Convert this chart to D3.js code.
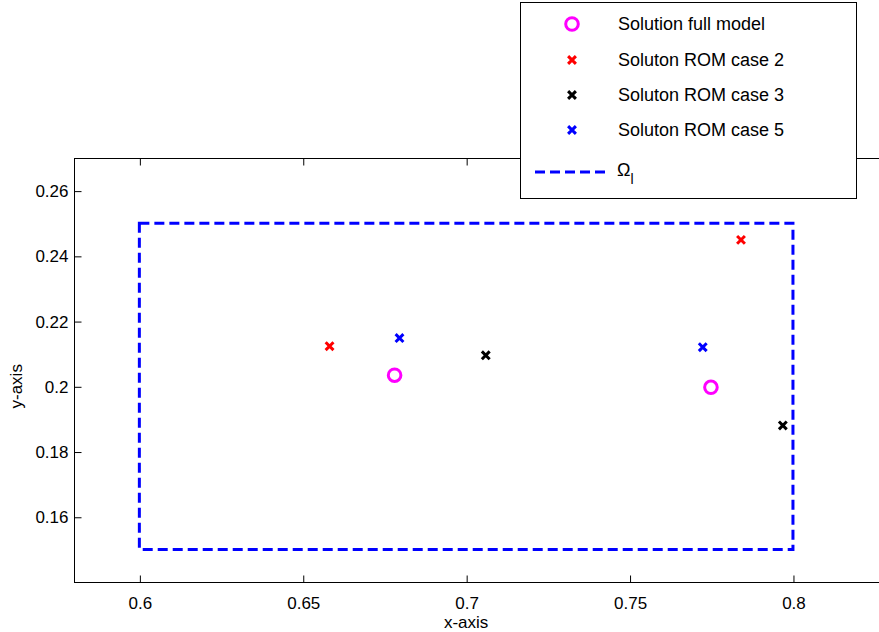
<!DOCTYPE html>
<html><head><meta charset="utf-8">
<script src="https://cdn.jsdelivr.net/npm/d3@7"></script>
<style>body{margin:0;background:#fff}svg{display:block}text{font-family:"Liberation Sans",Arial,sans-serif}</style>
</head><body><svg id="c" width="879" height="632"></svg>
<script>
const xTicks=[0.6,0.65,0.7,0.75,0.8];
const yTicks=[0.16,0.18,0.2,0.22,0.24,0.26];
const fullModel=[[0.6781,0.2034],[0.7749,0.1997]];
const romCase2=[[0.6582,0.2123],[0.7841,0.2449]];
const romCase3=[[0.7060,0.2095],[0.7969,0.1880]];
const romCase5=[[0.6796,0.2148],[0.7724,0.2120]];
const omegaX=[0.6,0.8], omegaY=[0.15,0.25];
const legendLabels=["Solution full model","Soluton ROM case 2","Soluton ROM case 3","Soluton ROM case 5"];

const svg=d3.select("#c");
const L=74,R=891,T=158,B=582;
const x=d3.scaleLinear().domain([0.58,0.83]).range([L,R]);
const y=d3.scaleLinear().domain([0.14,0.27]).range([B,T]);

const g=svg.append("g");
g.append("rect").attr("x",L+0.5).attr("y",T+0.5).attr("width",R-L).attr("height",B-T).attr("fill","none").attr("stroke","#000").attr("stroke-width",1);
const fmt=d=>String(+d.toFixed(3));
const xa=g.append("g").attr("transform",`translate(0.5,${B+0.5})`).call(d3.axisBottom(x).tickValues(xTicks).tickSize(-7).tickPadding(14).tickFormat(fmt));
const xt=g.append("g").attr("transform",`translate(0.5,${T+0.5})`).call(d3.axisTop(x).tickValues(xTicks).tickSize(-7).tickFormat(""));
const ya=g.append("g").attr("transform",`translate(${L+0.5},0.5)`).call(d3.axisLeft(y).tickValues(yTicks).tickSize(-7).tickPadding(6).tickFormat(fmt));
[xa,xt,ya].forEach(a=>{a.select(".domain").remove();a.selectAll("line").attr("stroke","#000");a.selectAll("text").attr("font-size",17).attr("fill","#000").style("font-family","Liberation Sans, Arial, sans-serif");});

g.append("text").attr("x",x(0.7)).attr("y",628).attr("text-anchor","middle").attr("font-size",17).text("x-axis");
g.append("text").attr("transform",`translate(22,${y(0.2)}) rotate(-90)`).attr("text-anchor","middle").attr("font-size",17).text("y-axis");

g.append("rect").attr("x",x(omegaX[0])).attr("y",y(omegaY[1])).attr("width",x(omegaX[1])-x(omegaX[0])).attr("height",y(omegaY[0])-y(omegaY[1]))
 .attr("fill","none").attr("stroke","#0000ff").attr("stroke-width",3).attr("stroke-dasharray","10,5");

function cross(sel,cx,cy,col){
  const s=3.9;
  sel.append("path").attr("d",`M${cx-s},${cy-s}L${cx+s},${cy+s}M${cx-s},${cy+s}L${cx+s},${cy-s}`).attr("stroke",col).attr("stroke-width",3).attr("fill","none");
}
function circ(sel,cx,cy){
  sel.append("circle").attr("cx",cx).attr("cy",cy).attr("r",6.3).attr("fill","none").attr("stroke","#ff00ff").attr("stroke-width",3);
}
fullModel.forEach(d=>circ(g,x(d[0]),y(d[1])));
romCase2.forEach(d=>cross(g,x(d[0]),y(d[1]),"#ff0000"));
romCase3.forEach(d=>cross(g,x(d[0]),y(d[1]),"#000000"));
romCase5.forEach(d=>cross(g,x(d[0]),y(d[1]),"#0000ff"));

const lg=svg.append("g");
lg.append("rect").attr("x",520.5).attr("y",2.5).attr("width",336).attr("height",196).attr("fill","#fff").attr("stroke","#000").attr("stroke-width",1);
const ly=[24,60,95,130];
circ(lg,572,ly[0]);
cross(lg,572,ly[1],"#ff0000");
cross(lg,572,ly[2],"#000000");
cross(lg,572,ly[3],"#0000ff");
legendLabels.forEach((t,i)=>lg.append("text").attr("x",618).attr("y",ly[i]+6).attr("font-size",18).text(t));
lg.append("line").attr("x1",535).attr("x2",609).attr("y1",172).attr("y2",172).attr("stroke","#0000ff").attr("stroke-width",3).attr("stroke-dasharray","10,5");
const om=lg.append("text").attr("x",617).attr("y",176).attr("font-size",18);
om.append("tspan").text("Ω");
om.append("tspan").attr("font-size",14).attr("dy",8).text("l");
</script></body></html>
